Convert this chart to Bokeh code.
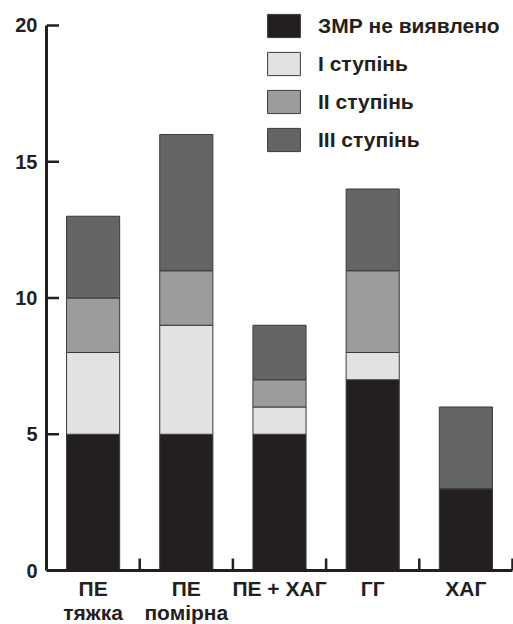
import numpy as np
from bokeh.plotting import figure
from bokeh.models import FixedTicker, ColumnDataSource, Range1d
from bokeh.embed import file_html
from bokeh.resources import INLINE

categories = ["ПЕ\nтяжка", "ПЕ\nпомірна", "ПЕ + ХАГ", "ГГ", "ХАГ"]
not_found = [5, 5, 5, 7, 3]
stage1 = [3, 4, 1, 1, 0]
stage2 = [2, 2, 1, 3, 0]
stage3 = [3, 5, 2, 3, 3]
series_names = ["ЗМР не виявлено", "І ступінь", "ІІ ступінь", "ІІІ ступінь"]
colors = ["#231f20", "#e1e2e4", "#9b9c9e", "#646567"]
y_ticks = [0, 5, 10, 15, 20]

n = len(categories)
centers = list(np.arange(n) + 0.5)
bounds = list(np.arange(1, n + 1).astype(float))
keys = ["a", "b", "c", "d"]
src = ColumnDataSource(dict(x=centers, a=not_found, b=stage1, c=stage2, d=stage3))

FONT = "Liberation Sans"
INK = "#231f20"

FW, FH = 467, 557
XR = (0, n * FW / 466)
YR = (0, 20.44)
px_x = (XR[1] - XR[0]) / FW   # data units per pixel, x
px_y = (YR[1] - YR[0]) / FH   # data units per pixel, y

p = figure(frame_width=FW, frame_height=FH, output_backend="svg", toolbar_location=None,
           x_range=Range1d(*XR), y_range=Range1d(*YR),
           min_border_left=46, min_border_top=13, min_border_right=0, min_border_bottom=0)
p.vbar_stack(keys, x="x", width=0.57, source=src, color=colors,
             line_color="#3a3a3a", line_width=1, legend_label=series_names)

# inward tick marks: 12 px up at category boundaries, 11 px right at the y tick values
p.vbar(x=bounds, bottom=0, top=12 * px_y, width=2.5 * px_x,
       fill_color=INK, line_color=None)
p.hbar(y=y_ticks, left=0, right=12.5 * px_x, height=2.5 * px_y,
       fill_color=INK, line_color=None)

p.xgrid.visible = False
p.ygrid.visible = False
p.outline_line_color = None
p.background_fill_color = None
p.border_fill_color = None

xa = p.xaxis[0]
ya = p.yaxis[0]
for ax in (xa, ya):
    ax.axis_line_color = INK
    ax.axis_line_width = 3
    ax.major_tick_in = 0
    ax.major_tick_out = 0
    ax.minor_tick_in = 0
    ax.minor_tick_out = 0
    ax.major_label_text_font = FONT
    ax.major_label_text_font_style = "bold"
    ax.major_label_text_color = INK

xa.ticker = FixedTicker(ticks=centers, minor_ticks=[])
xa.major_label_overrides = {c: lab for c, lab in zip(centers, categories)}
xa.bounds = (0, n)
xa.major_label_standoff = 6
xa.major_label_text_font_size = "21px"
xa.major_label_text_line_height = 1.08

ya.ticker = FixedTicker(ticks=y_ticks, minor_ticks=[])
ya.bounds = (0, 20)
ya.major_label_standoff = 9
ya.major_label_text_font_size = "20px"

lg = p.legend[0]
lg.location = (217, 416)
lg.padding = 0
lg.margin = 0
lg.border_line_color = None
lg.background_fill_alpha = 0
lg.glyph_width = 41
lg.glyph_height = 29
lg.label_height = 23
lg.spacing = 9
lg.label_standoff = 14
lg.label_text_font = FONT
lg.label_text_font_style = "bold"
lg.label_text_font_size = "21px"
lg.label_text_color = INK

open("out.html", "w").write(file_html(p, INLINE))
